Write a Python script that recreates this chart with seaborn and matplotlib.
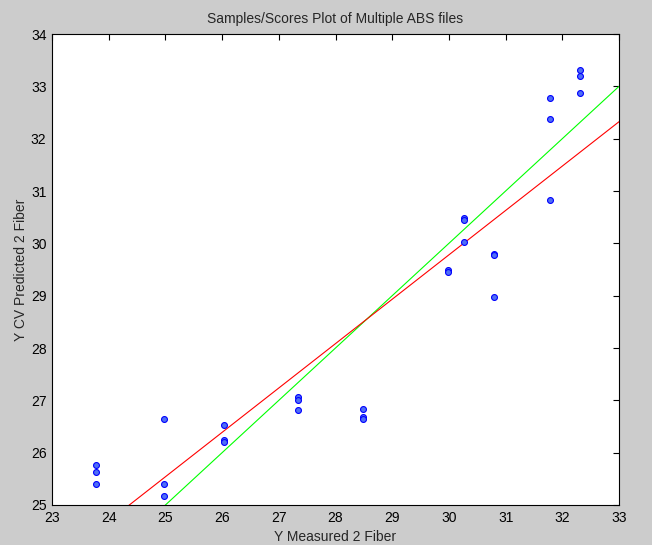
import numpy as np
import pandas as pd
import matplotlib
matplotlib.use("Agg")
import matplotlib.pyplot as plt
import seaborn as sns

# Data
y_measured = [23.77, 23.77, 23.77,
              24.97, 24.97, 24.97,
              26.04, 26.04, 26.04,
              27.34, 27.34, 27.34,
              28.48, 28.48, 28.48,
              29.98, 29.98,
              30.27, 30.27, 30.27,
              30.80, 30.80, 30.80,
              31.79, 31.79, 31.79,
              32.31, 32.31, 32.31]
y_predicted = [25.76, 25.63, 25.40,
               26.65, 25.41, 25.18,
               26.53, 26.24, 26.20,
               27.07, 27.01, 26.81,
               26.83, 26.68, 26.64,
               29.50, 29.45,
               30.49, 30.45, 30.02,
               29.80, 29.78, 28.97,
               32.77, 32.37, 30.82,
               33.31, 33.19, 32.87]
fit_slope = 0.848
fit_intercept = 4.34
ideal_slope = 1.0
ideal_intercept = 0.0
x_ticks = [23, 24, 25, 26, 27, 28, 29, 30, 31, 32, 33]
y_ticks = [25, 26, 27, 28, 29, 30, 31, 32, 33, 34]

df = pd.DataFrame({"measured": y_measured, "predicted": y_predicted})

sns.set_style("white")
plt.rcParams['font.family'] = ['Liberation Sans', 'DejaVu Sans']

fig = plt.figure(figsize=(6.52, 5.45), dpi=100, facecolor="#cccccc")
ax = fig.add_axes([0.0798, 0.0734, 0.8696, 0.8642])
ax.set_facecolor("white")

line_x = np.array([23.0, 33.0])
sns.lineplot(x=line_x, y=ideal_slope * line_x + ideal_intercept, ax=ax,
             color="#00ff00", linewidth=0.8, zorder=2)
sns.lineplot(x=line_x, y=fit_slope * line_x + fit_intercept, ax=ax,
             color="#ff0000", linewidth=0.8, zorder=2)
sns.scatterplot(data=df, x="measured", y="predicted", ax=ax,
                s=18, color="#4f6ef5", edgecolor="#0000ff", linewidth=0.8, zorder=3)

ax.set_xlim(23, 33)
ax.set_ylim(25, 34)
ax.set_xticks(x_ticks)
ax.set_yticks(y_ticks)
ax.tick_params(direction="in", top=True, right=True, length=4.5, width=0.8,
               labelsize=10, colors="black", pad=4)
for sp in ax.spines.values():
    sp.set_visible(True)
    sp.set_color("black")
    sp.set_linewidth(0.8)

ax.set_xlabel("Y Measured 2 Fiber", fontsize=10, labelpad=4)
ax.set_ylabel("Y CV Predicted 2 Fiber", fontsize=10, labelpad=2)
ax.set_title("Samples/Scores Plot of Multiple ABS files", fontsize=10, pad=8)

fig.savefig("out.png", dpi=100, facecolor=fig.get_facecolor())
